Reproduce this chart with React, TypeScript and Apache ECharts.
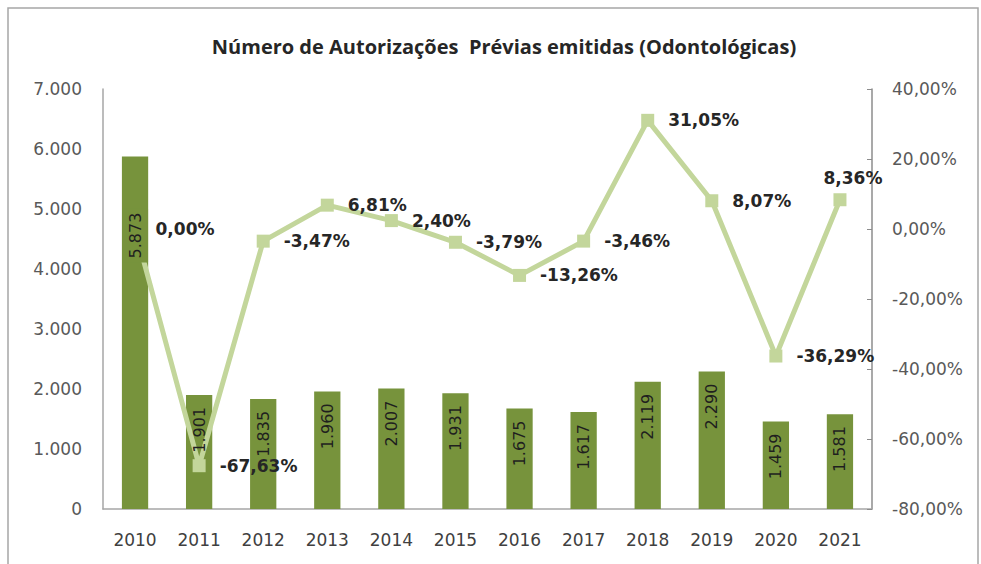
import React, { useEffect, useRef } from "react";
import * as echarts from "echarts";

const years = ["2010", "2011", "2012", "2013", "2014", "2015", "2016", "2017", "2018", "2019", "2020", "2021"];
const authorizations = [5873, 1901, 1835, 1960, 2007, 1931, 1675, 1617, 2119, 2290, 1459, 1581];
const variation = [0.0, -67.63, -3.47, 6.81, 2.4, -3.79, -13.26, -3.46, 31.05, 8.07, -36.29, 8.36];

const titleText = "Número de Autorizações  Prévias emitidas (Odontológicas)";

const fmtThousands = (v: number) => String(v).replace(/\B(?=(\d{3})+(?!\d))/g, ".");
const fmtPct = (v: number) => v.toFixed(2).replace(".", ",") + "%";

export default function App() {
  const ref = useRef<HTMLDivElement>(null);
  useEffect(() => {
    if (!ref.current) return;
    const chart = echarts.init(ref.current, undefined, { renderer: "svg" });
    const font = "'DejaVu Sans', Verdana, sans-serif";
    const barColor = "#77933c";
    const labelBars = authorizations.map((v, i) => ({
      value: v,
      label:
        i === 0
          ? { distance: 52, backgroundColor: barColor, padding: [5, 4, 5, 4] }
          : undefined,
    }));
    const lineData = variation.map((v, i) => ({
      value: v,
      label:
        i === variation.length - 1
          ? { position: "top", distance: 7, offset: [13, 0] }
          : undefined,
    }));
    chart.setOption({
      animation: false,
      title: {
        text: titleText,
        left: 499,
        top: 31,
        textAlign: "center",
        textStyle: {
          fontFamily: "'Open Sans', sans-serif",
          fontWeight: "bold",
          fontSize: 20,
          color: "#262626",
        },
      },
      graphic: [
        {
          type: "rect",
          shape: { x: 8, y: 8, width: 970, height: 570 },
          style: { fill: "none", stroke: "#a6a6a6", lineWidth: 1.5 },
          silent: true,
        },
      ],
      grid: { left: 103, right: 109, top: 89, bottom: 55 },
      xAxis: {
        type: "category",
        data: years,
        axisLine: { show: true, lineStyle: { color: "#a6a6a6", width: 1.5 } },
        axisTick: { show: false },
        axisLabel: { fontFamily: font, fontSize: 17, color: "#404040", margin: 22 },
      },
      yAxis: [
        {
          type: "value",
          min: 0,
          max: 7000,
          interval: 1000,
          splitLine: { show: false },
          axisLine: { show: true, lineStyle: { color: "#a6a6a6", width: 1.5 } },
          axisTick: { show: false },
          axisLabel: {
            fontFamily: font,
            fontSize: 17,
            color: "#595959",
            margin: 21,
            formatter: (v: number) => fmtThousands(v),
          },
        },
        {
          type: "value",
          min: -80,
          max: 40,
          interval: 20,
          splitLine: { show: false },
          axisLine: { show: true, lineStyle: { color: "#8c8c8c", width: 1.5 } },
          axisTick: { show: true, length: 5, inside: true, lineStyle: { color: "#8c8c8c" } },
          axisLabel: {
            fontFamily: font,
            fontSize: 17,
            color: "#595959",
            margin: 20,
            formatter: (v: number) => fmtPct(v),
          },
        },
      ],
      series: [
        {
          type: "bar",
          data: authorizations,
          barWidth: "41%",
          z: 2,
          itemStyle: { color: barColor },
        },
        {
          type: "line",
          yAxisIndex: 1,
          data: lineData,
          z: 3,
          symbol: "rect",
          symbolSize: 13,
          lineStyle: { color: "#c3d69b", width: 5 },
          itemStyle: { color: "#c3d69b" },
          label: {
            show: true,
            position: "right",
            distance: 14,
            fontFamily: font,
            fontSize: 17,
            fontWeight: "bold",
            color: "#262626",
            formatter: (p: any) => fmtPct(p.value),
          },
        },
        {
          type: "bar",
          data: labelBars,
          barWidth: "41%",
          barGap: "-100%",
          z: 4,
          silent: true,
          itemStyle: { color: "transparent" },
          label: {
            show: true,
            position: "insideTop",
            rotate: 90,
            align: "right",
            verticalAlign: "middle",
            distance: 12,
            fontFamily: font,
            fontSize: 16,
            color: "#1f1f1f",
            formatter: (p: any) => fmtThousands(p.value),
          },
        },
      ],
    });
    return () => chart.dispose();
  }, []);
  return (
    <div
      ref={ref}
      style={{ position: "absolute", left: 0, top: 0, width: 981, height: 564, background: "#fff" }}
    />
  );
}
